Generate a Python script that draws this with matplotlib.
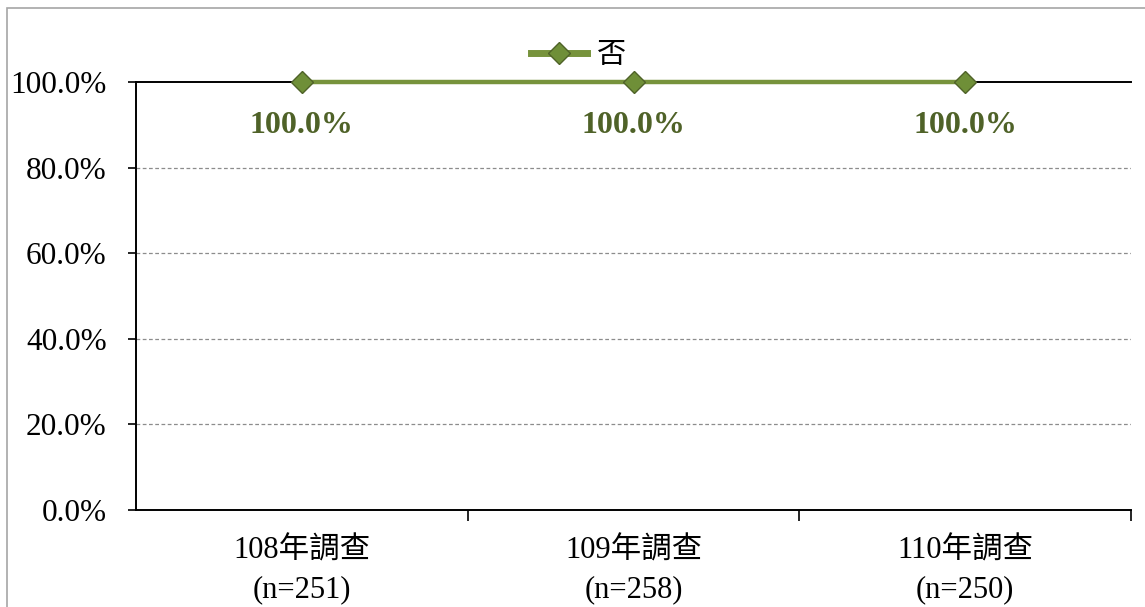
import matplotlib
matplotlib.use('Agg')
import matplotlib.pyplot as plt
from matplotlib.patches import Rectangle
from matplotlib.ticker import FuncFormatter

# ==================== Data ====================
CATEGORIES = ["108年調查\n(n=251)", "109年調查\n(n=258)", "110年調查\n(n=250)"]
SERIES_NAME = "否"
VALUES = [100.0, 100.0, 100.0]
Y_TICKS = [0, 20, 40, 60, 80, 100]

LINE_COLOR = '#77933c'
MARKER_FACE = '#6f8f38'
MARKER_EDGE = '#4f6228'
LABEL_COLOR = '#4f6228'

plt.rcParams['font.family'] = ['Liberation Serif', 'Noto Sans CJK TC']

fig = plt.figure(figsize=(11.45, 6.07), dpi=100)
ax = fig.add_axes([136 / 1145, 1 - 510 / 607, 995 / 1145, 428 / 607])

# chart area border (light gray, top/left visible)
fig.patches.append(Rectangle((7 / 1145, -0.1), 1.2, (1 - 8 / 607) + 0.1,
                             transform=fig.transFigure, fill=False,
                             edgecolor='#a6a6a6', linewidth=1.2))

x = list(range(len(CATEGORIES)))
ax.plot(x, VALUES, color=LINE_COLOR, linewidth=3.2, marker='D',
        markersize=11, markerfacecolor=MARKER_FACE,
        markeredgecolor=MARKER_EDGE, markeredgewidth=1.0,
        label=SERIES_NAME, zorder=4, clip_on=False)

for xi, v in zip(x, VALUES):
    ax.annotate(f'{v:.1f}%', (xi, v), xytext=(0, -31),
                textcoords='offset points', ha='center', va='center',
                fontsize=23, fontweight='bold', color=LABEL_COLOR)

ax.set_xlim(-0.5, len(CATEGORIES) - 0.5)
ax.set_ylim(0, 100)
ax.set_yticks(Y_TICKS)
ax.yaxis.set_major_formatter(FuncFormatter(lambda v, p: f'{v:.1f}%'))
ax.tick_params(axis='y', labelsize=22.5, length=6, width=1.2,
               direction='out', pad=15)

ax.set_xticks(x)
ax.set_xticklabels(CATEGORIES, fontsize=22, linespacing=1.45)
ax.tick_params(axis='x', length=0, pad=19)
ax.set_xticks([0.5, 1.5, 2.5], minor=True)
ax.tick_params(axis='x', which='minor', length=8, width=1.2, direction='out')

for yv in Y_TICKS[1:-1]:
    ax.axhline(yv, color='#8c8c8c', linestyle=(0, (3, 2)), linewidth=0.9,
               zorder=1)

for side in ['left', 'bottom', 'top']:
    ax.spines[side].set_linewidth(1.4)
    ax.spines[side].set_color('black')
ax.spines['right'].set_visible(False)

leg = ax.legend(loc='lower center', bbox_to_anchor=(0.445, 1.0),
                frameon=False, fontsize=21, handlelength=1.9,
                handletextpad=0.35, borderaxespad=0.05)
for h in leg.get_lines():
    h.set_linewidth(5)

fig.savefig('out.png', dpi=100)
